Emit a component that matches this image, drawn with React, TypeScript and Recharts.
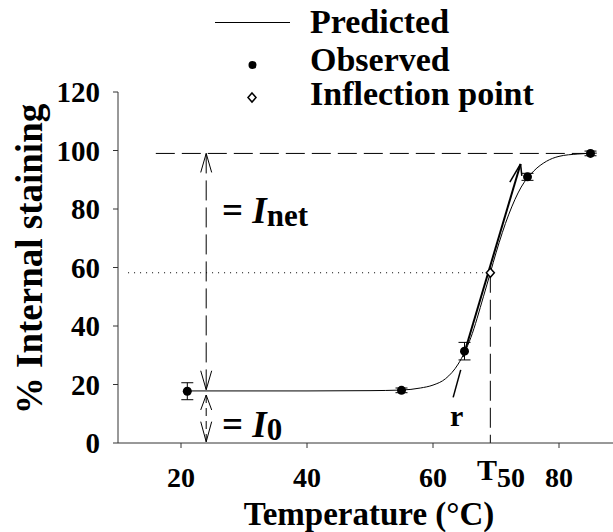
import {
  ComposedChart,
  Line,
  Scatter,
  ErrorBar,
  XAxis,
  YAxis,
  ReferenceLine,
  Legend,
  Customized,
} from "recharts";

const FONT = "Liberation Serif, Times New Roman, DejaVu Serif, serif";
const txt = { fontFamily: FONT, fontWeight: 700 } as const;

// axis ticks
const xTicks = [20, 40, 60, 80];
const yTicks = [0, 20, 40, 60, 80, 100, 120];

// observed means with error bars
const obsTemp = [21, 55, 65, 75, 85];
const obsStain = [17.7, 18, 31.4, 91, 99];
const obsErr = [2.9, 0.8, 3, 1.2, 0.8];

// fitted curve
const fitTemp = [21, 30, 40, 50, 55, 58, 60, 62, 64, 66, 68, 69.1, 70, 72, 74, 76, 78, 80, 83, 86];
const fitStain = [17.8, 17.8, 17.8, 17.9, 18.1, 18.8, 19.8, 22, 27, 36, 50, 58.2, 65, 78, 87.5, 93, 96.3, 98, 98.8, 99.1];

// derived parameters
const t50 = 69.1;
const i50 = 58.2;
const iTop = 99;
const arrowX = 24;

const obsData = obsTemp.map((x, i) => ({ x, y: obsStain[i], err: obsErr[i] }));
const fitData = fitTemp.map((x, i) => ({ x, y: fitStain[i] }));
const inflData = [{ x: t50, y: i50 }];

type Seg = { a: [number, number]; b: [number, number]; dash?: string; w?: number };

// annotation strokes (arrows, guides, slope)
const guides: Seg[] = [
  { a: [16, iTop], b: [85, iTop], dash: "19 7" },
  { a: [11.6, i50], b: [t50, i50], dash: "1 5" },
  { a: [t50, i50], b: [t50, 0], dash: "20 7" },
  // I_net arrow
  { a: [arrowX, iTop], b: [arrowX, 18.2], dash: "20 7" },
  { a: [arrowX, iTop], b: [arrowX - 0.87, 92.5] },
  { a: [arrowX, iTop], b: [arrowX + 0.87, 92.5] },
  { a: [arrowX, 18.2], b: [arrowX - 0.87, 24.7] },
  { a: [arrowX, 18.2], b: [arrowX + 0.87, 24.7] },
  // I_0 arrow
  { a: [arrowX, 16.4], b: [arrowX, 0.4], dash: "8 5" },
  { a: [arrowX, 16.4], b: [arrowX - 0.87, 11.3] },
  { a: [arrowX, 16.4], b: [arrowX + 0.87, 11.3] },
  { a: [arrowX, 0.4], b: [arrowX - 0.87, 7.3] },
  { a: [arrowX, 0.4], b: [arrowX + 0.87, 7.3] },
  // slope r
  { a: [64.8, 29.5], b: [73.9, 95.4], w: 2 },
  { a: [73.9, 95.4], b: [72.2, 89.2], w: 1.5 },
  { a: [73.9, 95.4], b: [74.1, 91.3], w: 1.5 },
  { a: [64.4, 25], b: [63.2, 15.6], w: 1.5 },
];

const XTick = (p: any) => (
  <text x={p.x} y={p.y + 37} textAnchor="middle" style={{ ...txt, fontSize: 28 }} fill="#000">
    {p.payload.value}
  </text>
);

const YTick = (p: any) => (
  <text x={p.x} y={p.y + 10} textAnchor="end" style={{ ...txt, fontSize: 29 }} fill="#000">
    {p.payload.value}
  </text>
);

const Dot = (p: any) => <circle cx={p.cx} cy={p.cy} r={4.5} fill="#000" />;

const Diamond = (p: any) => (
  <path
    d={`M${p.cx},${p.cy - 4.5}L${p.cx + 4},${p.cy}L${p.cx},${p.cy + 4.5}L${p.cx - 4},${p.cy}Z`}
    fill="#fff"
    stroke="#000"
    strokeWidth={1.5}
  />
);

const LegendBox = () => (
  <svg width={613} height={120} style={{ display: "block" }}>
    <line x1={215} y1={22.5} x2={290} y2={22.5} stroke="#000" strokeWidth={1} />
    <circle cx={252.5} cy={65} r={4} fill="#000" />
    <path d="M252,93L256,97.5L252,102L248,97.5Z" fill="#fff" stroke="#000" strokeWidth={1.5} />
    <g style={{ ...txt, fontSize: 34 }} fill="#000">
      <text x={310} y={33}>Predicted</text>
      <text x={310} y={71}>Observed</text>
      <text x={310} y={105}>Inflection point</text>
    </g>
  </svg>
);

const Notes = () => (
  <g style={txt} fill="#000">
    <text x={42} y={259} fontSize={37} textAnchor="middle" transform="rotate(-90 42 259)">
      % Internal staining
    </text>
    <text x={369} y={525} fontSize={33} textAnchor="middle">
      Temperature (°C)
    </text>
    <text x={222} y={223} fontSize={37}>
      = <tspan fontStyle="italic">I</tspan>
      <tspan fontSize={31} dy={3}>net</tspan>
    </text>
    <text x={222} y={437} fontSize={37}>
      = <tspan fontStyle="italic">I</tspan>
      <tspan fontSize={31} dy={3}>0</tspan>
    </text>
    <text x={450} y={426} fontSize={30}>r</text>
    <text x={477} y={480} fontSize={30}>
      T<tspan fontSize={28} dy={7}>50</tspan>
    </text>
  </g>
);

export default function App() {
  return (
    <div style={{ position: "absolute", left: 0, top: 0, width: 613, height: 532, overflow: "hidden", background: "#fff" }}>
      <ComposedChart width={630} height={532} margin={{ top: 92, right: 8, bottom: 49, left: 0 }}>
        <XAxis
          type="number"
          dataKey="x"
          domain={[10, 90]}
          ticks={xTicks}
          tickSize={5}
          tickMargin={2}
          tick={XTick}
          height={40}
          stroke="#333"
          allowDataOverflow
        />
        <YAxis
          type="number"
          dataKey="y"
          domain={[0, 120]}
          ticks={yTicks}
          tickSize={5}
          tickMargin={13}
          tick={YTick}
          width={118}
          stroke="#333"
        />
        {guides.map((g, i) => (
          <ReferenceLine
            key={i}
            segment={[
              { x: g.a[0], y: g.a[1] },
              { x: g.b[0], y: g.b[1] },
            ]}
            stroke="#000"
            strokeWidth={g.w ?? 1}
            strokeDasharray={g.dash}
            ifOverflow="visible"
          />
        ))}
        <Line
          data={fitData}
          dataKey="y"
          type="monotone"
          stroke="#000"
          strokeWidth={1}
          dot={false}
          activeDot={false}
          isAnimationActive={false}
          name="Predicted"
        />
        <Scatter data={obsData} dataKey="y" shape={Dot} isAnimationActive={false} name="Observed">
          <ErrorBar dataKey="err" direction="y" width={6} stroke="#000" strokeWidth={1} isAnimationActive={false} />
        </Scatter>
        <Scatter data={inflData} dataKey="y" shape={Diamond} isAnimationActive={false} name="Inflection point" />
        <Legend
          layout="horizontal"
          verticalAlign="middle"
          align="center"
          content={LegendBox}
          wrapperStyle={{ left: 0, top: 0, width: 613, height: 120 }}
        />
        <Customized component={Notes} />
      </ComposedChart>
    </div>
  );
}
